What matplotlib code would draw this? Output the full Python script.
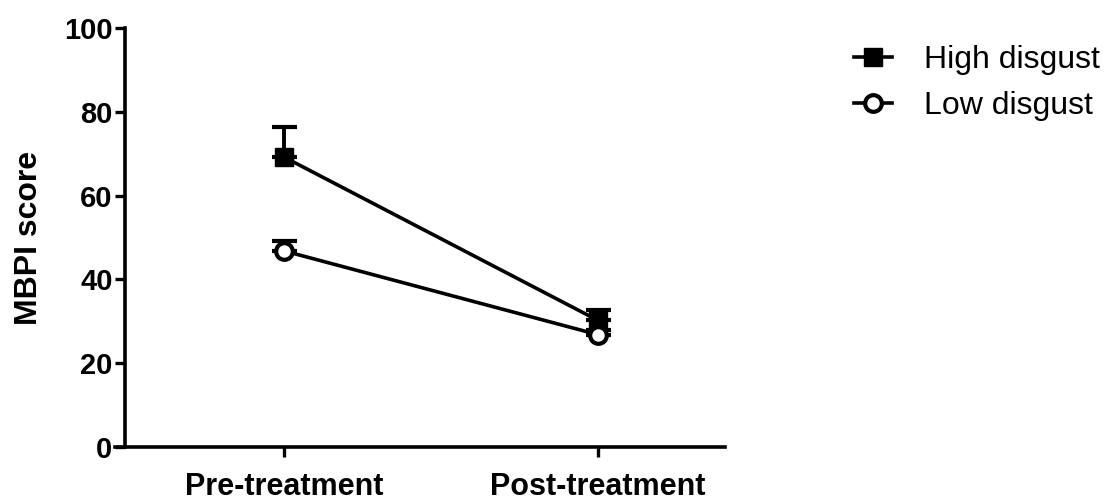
import matplotlib.pyplot as plt

plt.rcParams['font.family'] = ['Liberation Sans', 'DejaVu Sans']
plt.rcParams['font.weight'] = 'bold'

phases = ['Pre-treatment', 'Post-treatment']
high_mean = [69.2, 30.2]
high_err = [7.2, 2.6]
low_mean = [46.8, 26.8]
low_err = [2.4, 1.2]

fig = plt.figure(figsize=(11.18, 5), dpi=100)
ax = fig.add_axes([115 / 1118, 53 / 500, 610 / 1118, 419 / 500])

x = [0, 1]
ax.errorbar(x, high_mean, yerr=[[0, 0], high_err], color='black', lw=2.6,
            marker='s', ms=13, capsize=9, capthick=3, elinewidth=2.8,
            label='High disgust', clip_on=False, zorder=3)
ax.errorbar(x, low_mean, yerr=[[0, 0], low_err], color='black', lw=2.6,
            marker='o', ms=12, mfc='white', mec='black', mew=3,
            capsize=9, capthick=3, elinewidth=2.8,
            label='Low disgust', clip_on=False, zorder=3)

ax.spines['right'].set_visible(False)
ax.spines['top'].set_visible(False)
ax.spines['left'].set_position(('data', -0.506))
ax.spines['left'].set_linewidth(2.6)
ax.spines['bottom'].set_linewidth(2.6)

ax.set_xlim(-0.538, 1.404)
ax.set_ylim(0, 100)
ax.set_yticks([0, 20, 40, 60, 80, 100])
ax.set_xticks(x)
ax.set_xticklabels(phases)
ax.set_ylabel('MBPI score', fontsize=23, fontweight='bold', labelpad=14)
ax.tick_params(width=2.4, length=7)
ax.tick_params(axis='y', labelsize=21, pad=2)
ax.tick_params(axis='x', labelsize=22, pad=11)

handles, labels = ax.get_legend_handles_labels()
handles = [h[0] for h in handles]
fig.legend(handles, labels, loc='upper left', bbox_to_anchor=(0.738, 0.968),
           frameon=False, prop={'size': 23, 'weight': 'normal'},
           handlelength=1.2, labelspacing=0.5, handletextpad=1.0)

plt.savefig('out.png')
